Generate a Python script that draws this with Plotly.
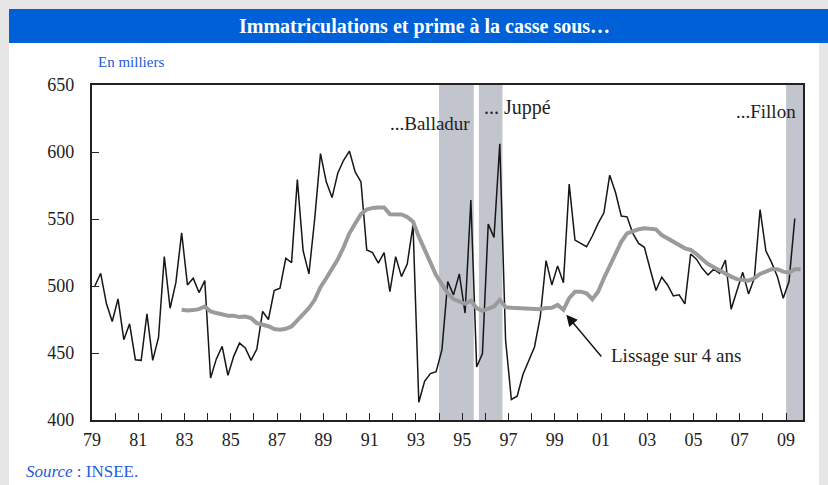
import plotly.graph_objects as go

# ---------------- data (quarterly, thousands) ----------------
start_year = 1979
immat = [500, 509.5, 486.7, 473.5, 490.4, 459.9, 471.8, 445, 444.5, 479.2,
         444.5, 461.6, 521.9, 483.4, 502.5, 539.7, 500.8, 505.8, 495.1, 504,
         431.4, 445.6, 454.9, 433.4, 447.5, 457.4, 453.7, 444.5, 453, 481,
         475, 496.6, 498.4, 520.7, 517.4, 579.4, 526.3, 509, 550, 598.8,
         577.7, 566, 584.4, 593.8, 600.7, 585.1, 577.7, 526.9, 524.9, 517,
         524.9, 495.8, 521.9, 507, 516.4, 545.5, 413.2, 428.9, 434.6, 436,
         452.5, 503.3, 493.4, 509, 479.8, 564.1, 439.6, 449.5, 546.2, 536.3,
         606.2, 459.9, 415.3, 417.7, 433.9, 443.8, 454.5, 477.2, 518.9, 500.8,
         515, 502.5, 576, 534.3, 531.8, 529.3, 537.3, 546.7, 554.6, 582.7,
         570, 552.2, 551.6, 539.3, 531.8, 528.9, 512.5, 496.6, 506.5, 500.8,
         492.6, 493.4, 486.7, 523.9, 520, 513.2, 508.3, 512.5, 509.5, 519.4,
         482.7, 497.1, 510.2, 494.1, 505.8, 557.1, 526.3, 517.4, 507, 490.9,
         503.3, 550.4]

lissage_first_quarter = 15  # 1982 Q4
lissage = [482.2, 481.7, 482, 482.7, 484.7, 481, 479.8, 478.7, 477.8, 477.8,
           476.8, 477.2, 476, 472.3, 471.5, 470, 467.9, 467.3, 468.1, 469.8,
           474.3, 479.2, 483.5, 489.7, 499.1, 505.8, 512.5, 520, 528.9, 539.3,
           546.7, 553.6, 557.1, 558.3, 558.6, 558.6, 553.6, 553.6, 553.4, 551.6,
           547.9, 536.8, 526.9, 516.4, 508, 501, 494.6, 490.2, 488.4, 486.7,
           489.1, 483.5, 481.5, 483, 484.7, 489.7, 484.2, 483.7, 483.5, 483.2,
           483.7, 483.5, 482.7, 483.5, 483.7, 485.9, 482.2, 490.9, 495.8, 495.8,
           494.6, 490.2, 495.8, 505.8, 514.4, 524.6, 533, 539.3, 541.2, 542.3,
           543, 543, 542.3, 538, 535.6, 533, 530.6, 528.1, 526.9, 523.9,
           519.9, 516.4, 514, 511.5, 509, 507, 505.1, 504.5, 504, 505.8,
           509, 510.7, 512.5, 512.5, 510.7, 510, 512.5, 512.5]

# prime à la casse periods (decimal years)
periods = [("...Balladur", 1994.0, 1995.5),
           ("... Juppé", 1995.72, 1996.74),
           ("...Fillon", 2009.0, 2009.73)]

years = list(range(1979, 2010))
year_labels = [f"{y % 100:02d}" if (y - 1979) % 2 == 0 else "" for y in years]
y_ticks = [400, 450, 500, 550, 600, 650]


def qx(i):
    return start_year + i / 4 + 0.125


x_immat = [qx(i) for i in range(len(immat))]
x_liss = [qx(lissage_first_quarter + i) for i in range(len(lissage))]

FONT = "Liberation Serif"
BLUE = "#1f5bd8"
TXT = "#222"

fig = go.Figure()
fig.add_trace(go.Scatter(x=x_immat, y=immat, mode="lines",
                         line=dict(color="#161616", width=1.5),
                         hoverinfo="skip", showlegend=False))
fig.add_trace(go.Scatter(x=x_liss, y=lissage, mode="lines",
                         line=dict(color="#9b9b9b", width=4),
                         hoverinfo="skip", showlegend=False))

# background panel, title bar
L, R, T, B, W = 92, 803, 85, 420.5, 828
def px(v):
    return (v - L) / (R - L)
def py(v):
    return (B - v) / (B - T)

shapes = [
    dict(type="rect", xref="paper", yref="paper", x0=px(9), x1=px(819),
         y0=py(490), y1=py(9), fillcolor="white", line_width=0, layer="below"),
    dict(type="rect", xref="paper", yref="paper", x0=px(9), x1=px(830),
         y0=py(43), y1=py(9), fillcolor="#0060d8", line_width=0, layer="below"),
]
for name, a, b in periods:
    shapes.append(dict(type="rect", xref="x", yref="y", x0=a, x1=b, y0=400, y1=650,
                       fillcolor="#c2c5cd", line_width=0, layer="below"))

annotations = [
    dict(text="<b>Immatriculations et prime à la casse sous…</b>", xref="paper", yref="paper",
         x=px(424), y=py(26), xanchor="center", yanchor="middle", showarrow=False,
         font=dict(family=FONT, size=20, color="white")),
    dict(text="En milliers", xref="paper", yref="paper", x=px(96), y=py(62),
         xanchor="left", yanchor="middle", showarrow=False,
         font=dict(family=FONT, size=15, color=BLUE)),
    dict(text="<i>Source</i> : INSEE.", xref="paper", yref="paper", x=px(24), y=py(472),
         xanchor="left", yanchor="middle", showarrow=False,
         font=dict(family=FONT, size=17, color=BLUE)),
    dict(text="...Balladur", x=1995.42, y=621, xanchor="right", yanchor="middle",
         showarrow=False, font=dict(family=FONT, size=19, color=TXT)),
    dict(text="... Juppé", x=1995.86, y=633.5, xanchor="left", yanchor="middle",
         showarrow=False, font=dict(family=FONT, size=20, color=TXT)),
    dict(text="...Fillon", x=2009.5, y=630, xanchor="right", yanchor="middle",
         showarrow=False, font=dict(family=FONT, size=19, color=TXT)),
    dict(text="Lissage sur 4 ans", x=2001.35, y=448, xanchor="left", yanchor="middle",
         showarrow=False, font=dict(family=FONT, size=19, color=TXT)),
    dict(text="", x=1999.5, y=478.5, ax=2001.07, ay=446.3, axref="x", ayref="y",
         showarrow=True, arrowhead=2, arrowsize=1.6, arrowwidth=1.4, arrowcolor="#111"),
]

fig.update_layout(
    width=W, height=485,
    margin=dict(l=L, r=W - R, t=T, b=485 - B, pad=0),
    paper_bgcolor="#e6e6e6", plot_bgcolor="white",
    shapes=shapes, annotations=annotations,
    font=dict(family=FONT, size=18, color=TXT),
    xaxis=dict(range=[1979, 2009.73], tickmode="array", tickvals=years, ticktext=year_labels,
               ticks="inside", ticklen=7, tickwidth=1.3, tickcolor=TXT,
               showline=True, linecolor=TXT, linewidth=2.2, mirror=True,
               showgrid=False, zeroline=False, ticklabelstandoff=2,
               tickfont=dict(family=FONT, size=18, color=TXT)),
    yaxis=dict(range=[400, 650], tickmode="array", tickvals=y_ticks,
               ticks="inside", ticklen=7, tickwidth=1.3, tickcolor=TXT,
               showline=True, linecolor=TXT, linewidth=2.2, mirror=True,
               showgrid=False, zeroline=False, ticklabelstandoff=12,
               tickfont=dict(family=FONT, size=18, color=TXT)),
)

fig.write_html("out.html", config={"displayModeBar": False},
               post_script="document.body.style.margin='0px';document.body.style.overflow='hidden';")
